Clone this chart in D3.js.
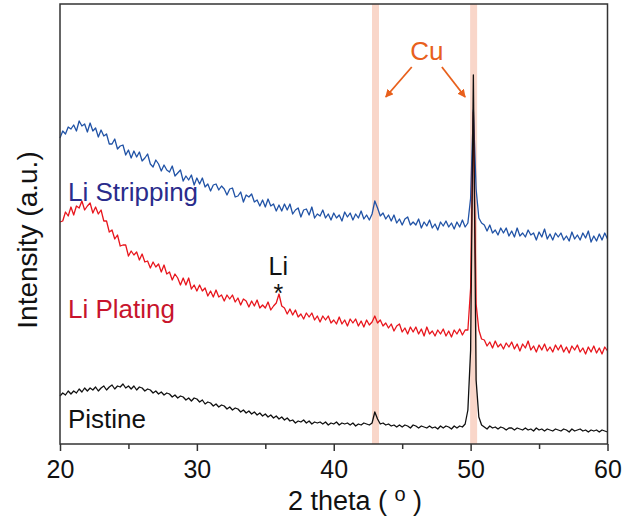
<!DOCTYPE html>
<html>
<head>
<meta charset="utf-8">
<script src="https://cdn.jsdelivr.net/npm/d3@7"></script>
<style>
  body { margin: 0; background: #fff; }
  svg { display: block; font-family: "Liberation Sans", Arial, sans-serif; }
</style>
</head>
<body>
<div id="app"></div>
<script>
// 2 theta grid, 0.2 deg steps from 20 to 60
const twoTheta = d3.range(201).map(i => +(20 + i * 0.2).toFixed(1));

// intensities (a.u., offset stacked), one row per degree
const stripping = [
  306, 313, 310, 317, 315,  319, 313, 323, 318, 320,  312, 321, 313, 316, 307,
  314, 308, 310, 300, 300,  305, 295, 298, 299, 289,  294, 286, 293, 287, 292,
  283, 286, 290, 280, 277,  284, 280, 273, 279, 274,  272, 278, 268, 271, 274,
  263, 268, 264, 269, 259,  266, 260, 266, 257, 260,  253, 259, 260, 254, 258,
  255, 249, 255, 256, 247,  248, 252, 242, 249, 247,  250, 242, 244, 238, 244,
  237, 245, 238, 240, 233,  239, 233, 240, 234, 240,  230, 234, 236, 227, 234,
  235, 229, 237, 226, 230,  228, 234, 226, 230, 224,  231, 226, 229, 223, 232,
  227, 231, 224, 230, 226,  233, 225, 229, 224, 230,  243, 236, 228, 231, 225,
  229, 223, 229, 221, 225,  219, 225, 227, 219, 222,  219, 225, 216, 222, 218,
  224, 216, 220, 214, 222,  218, 223, 217, 221, 215,  222, 217, 224, 217, 221,
  246, 334, 255, 226, 221,  219, 213, 219, 211, 214,  209, 216, 211, 216, 208,
  213, 207, 216, 208, 211,  207, 214, 209, 211, 204,  212, 207, 215, 205, 210,
  204, 211, 207, 211, 204,  208, 203, 212, 205, 209,  204, 211, 206, 213, 202,
  208, 203, 210, 204, 211,  205
];

const plating = [
  222, 223, 232, 228, 237,  229, 238, 236, 243, 234,  238, 241, 231, 237, 230,
  234, 223, 223, 212, 214,  205, 209, 198, 199, 199,  188, 193, 189, 192, 184,
  190, 182, 183, 176, 182,  177, 180, 172, 179, 170,  172, 164, 170, 166, 159,
  166, 159, 166, 155, 159,  153, 159, 153, 156, 148,  153, 147, 154, 147, 149,
  143, 149, 145, 149, 142,  146, 139, 145, 143, 137,  143, 138, 144, 136, 139,
  136, 142, 134, 138, 141,  150, 138, 136, 130, 135,  129, 134, 127, 130, 125,
  131, 127, 131, 124, 128,  122, 128, 124, 128, 121,  124, 120, 127, 120, 124,
  118, 125, 121, 125, 118,  123, 117, 124, 119, 122,  128, 121, 124, 118, 121,
  116, 120, 113, 118, 120,  112, 116, 110, 117, 112,  117, 110, 115, 108, 117,
  110, 113, 108, 114, 110,  115, 108, 113, 107, 114,  110, 115, 109, 114, 114,
  156, 332, 140, 114, 105,  104,  98, 102,  96, 103,   97, 100,  95, 101,  97,
  102,  95, 100,  93, 100,   96, 103,  94,  98,  92,   99,  94, 100,  93,  97,
   92,  99,  94,  99,  92,   97,  91,  98,  94,  99,   92,  96,  90,  97,  92,
   98,  91,  96,  90,  97,   93
];

const pristine = [
   48,  51,  49,  53,  50,   53,  51,  55,  52,  56,   53,  56,  54,  57,  53,
   56,  58,  54,  57,  59,   55,  58,  57,  60,  56,   58,  55,  58,  54,  57,
   56,  53,  55,  54,  51,   53,  50,  52,  49,  51,   50,  47,  49,  46,  48,
   47,  44,  46,  43,  46,   45,  42,  44,  40,  42,   41,  38,  40,  37,  39,
   38,  35,  37,  34,  36,   35,  32,  34,  31,  33,   30,  32,  29,  31,  28,
   30,  27,  29,  26,  28,   25,  27,  24,  26,  23,   24,  21,  23,  22,  24,
   21,  23,  20,  22,  21,   22,  20,  22,  19,  21,   20,  22,  19,  21,  20,
   21,  19,  21,  18,  20,   19,  21,  20,  19,  21,   32,  25,  20,  21,  19,
   20,  18,  19,  17,  19,   17,  19,  18,  16,  19,   18,  16,  18,  17,  16,
   18,  16,  17,  15,  18,   16,  18,  17,  15,  18,   16,  18,  17,  20,  34,
   94, 369,  64,  27,  19,   17,  15,  18,  16,  17,   15,  17,  16,  14,  16,
   16,  14,  16,  15,  14,   16,  14,  15,  13,  16,   14,  15,  13,  15,  14,
   13,  15,  14,  13,  15,   14,  12,  15,  13,  14,   15,  13,  14,  12,  14,
   13,  14,  12,  14,  13,   12
];

const seriesNames = ["Li Stripping", "Li Plating", "Pistine"];
const lineColors = ["#2153a6", "#e8161d", "#111111"];
const labelColors = ["#2a2c8c", "#c8142c", "#111111"];
const seriesData = [stripping, plating, pristine];

const cuPeaks = [43.05, 50.22];
const liPeak = 35.95;
const xTicks = [20, 30, 40, 50, 60];
const xMinorTicks = [25, 35, 45, 55];

const margin = { top: 4, right: 17.5, bottom: 81, left: 60 };
const W = 625, H = 525;
const width = W - margin.left - margin.right;
const height = H - margin.top - margin.bottom;

const x = d3.scaleLinear().domain([20, 60]).range([0, width]);
const y = d3.scaleLinear().domain([0, 440]).range([height, 0]);

const svg = d3.select("#app").append("svg")
  .attr("width", W).attr("height", H);
const g = svg.append("g").attr("transform", `translate(${margin.left},${margin.top})`);

// Cu reference bands
g.selectAll("rect.band").data(cuPeaks).enter().append("rect")
  .attr("class", "band")
  .attr("x", d => x(d) - 3.5).attr("width", 7)
  .attr("y", 0).attr("height", height)
  .attr("fill", "#f9d6c9");

// patterns
const line = d3.line().x((d, i) => x(twoTheta[i])).y(d => y(d));
g.selectAll("path.xrd").data(seriesData).enter().append("path")
  .attr("class", "xrd")
  .attr("d", line)
  .attr("fill", "none")
  .attr("stroke", (d, i) => lineColors[i])
  .attr("stroke-width", 1.3)
  .attr("stroke-linejoin", "round");

// series labels
const labelY = [243, 126, 16];
g.selectAll("text.name").data(seriesNames).enter().append("text")
  .attr("class", "name")
  .attr("x", 8)
  .attr("y", (d, i) => y(labelY[i]))
  .attr("fill", (d, i) => labelColors[i])
  .attr("font-size", 26)
  .text(d => d);

// Li marker
g.append("text").attr("x", x(liPeak)).attr("y", y(169))
  .attr("text-anchor", "middle").attr("font-size", 25).attr("fill", "#111").text("Li");
g.append("text").attr("x", x(liPeak)).attr("y", y(142))
  .attr("text-anchor", "middle").attr("font-size", 25).attr("fill", "#111").text("*");

// Cu annotation
const orange = "#e8601c";
svg.append("defs").append("marker")
  .attr("id", "arr").attr("viewBox", "0 0 10 10")
  .attr("refX", 9).attr("refY", 5)
  .attr("markerWidth", 4.5).attr("markerHeight", 4.5)
  .attr("orient", "auto")
  .append("path").attr("d", "M0,0L10,5L0,10z").attr("fill", orange);

g.append("text").attr("x", x(46.8)).attr("y", y(384))
  .attr("text-anchor", "middle").attr("font-size", 26).attr("fill", orange).text("Cu");
const arrows = [[45.7, 377, 43.8, 347], [47.9, 377, 49.6, 347]];
g.selectAll("line.arrow").data(arrows).enter().append("line")
  .attr("x1", d => x(d[0])).attr("y1", d => y(d[1]))
  .attr("x2", d => x(d[2])).attr("y2", d => y(d[3]))
  .attr("stroke", orange).attr("stroke-width", 1.8)
  .attr("marker-end", "url(#arr)");

// axes
const xAxis = g.append("g").attr("transform", `translate(0,${height})`)
  .call(d3.axisBottom(x).tickValues(xTicks).tickSize(7).tickPadding(9).tickFormat(d3.format("d")));
xAxis.select(".domain").remove();
xAxis.selectAll("line").attr("stroke", "#333").attr("stroke-width", 1.5);
xAxis.selectAll("text").attr("font-size", 25).attr("fill", "#111")
  .attr("font-family", "Liberation Sans, Arial, sans-serif");

const xMinor = g.append("g").attr("transform", `translate(0,${height})`)
  .call(d3.axisBottom(x).tickValues(xMinorTicks).tickSize(5).tickFormat(""));
xMinor.select(".domain").remove();
xMinor.selectAll("line").attr("stroke", "#333").attr("stroke-width", 1.5);

// frame
g.append("rect").attr("x", 0).attr("y", 0).attr("width", width).attr("height", height)
  .attr("fill", "none").attr("stroke", "#333").attr("stroke-width", 1.5);

// axis titles
const xt = svg.append("text")
  .attr("x", 355).attr("y", 510)
  .attr("text-anchor", "middle").attr("font-size", 27).attr("fill", "#111");
xt.append("tspan").text("2 theta ( ");
xt.append("tspan").attr("dy", -9).attr("font-size", 20).text("o");
xt.append("tspan").attr("dy", 9).text(" )");

svg.append("text")
  .attr("transform", "translate(37,240) rotate(-90)")
  .attr("text-anchor", "middle").attr("font-size", 28).attr("fill", "#111")
  .text("Intensity (a.u.)");
</script>
</body>
</html>
